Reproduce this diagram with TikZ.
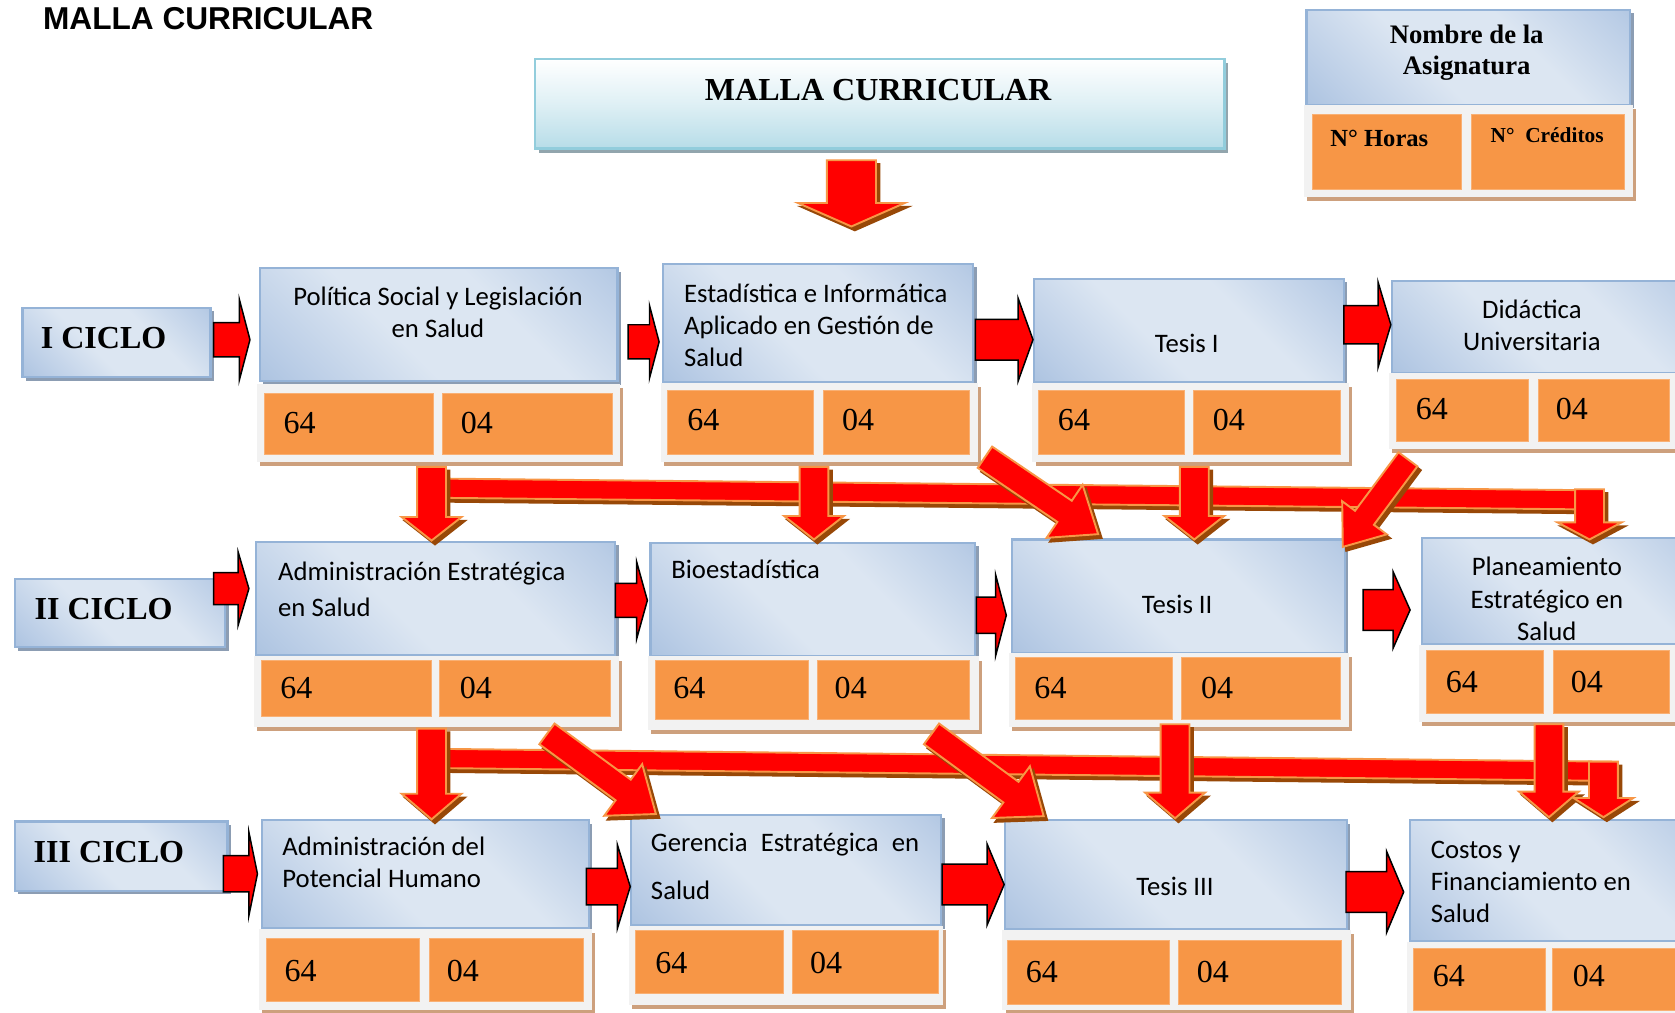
\documentclass[tikz,border=0pt]{standalone}
\usepackage{fontspec}
\usetikzlibrary{calc,shadows}
\newfontfamily\fcal{Carlito}
\newfontfamily\ftnr{Liberation Serif}
\newfontfamily\fars{Liberation Sans}
\definecolor{blight}{HTML}{DCE6F2}
\definecolor{bmid}{HTML}{BACDE6}
\definecolor{bdark}{HTML}{93B1D6}
\definecolor{bedge}{HTML}{95B3D7}
\definecolor{bshadow}{HTML}{8C9DB3}
\definecolor{orcell}{HTML}{F79646}
\definecolor{frgray}{HTML}{F2F2F2}
\definecolor{frshadow}{HTML}{CDA07D}
\definecolor{arrowedge}{HTML}{F79646}
\definecolor{arrowshadow}{HTML}{984807}
\definecolor{tbot}{HTML}{B7DDE8}
\definecolor{tedge}{HTML}{92CDDC}
\definecolor{tshadow}{HTML}{92A5AD}
\pgfdeclarehorizontalshading{bluesh}{100bp}{color(0bp)=(bdark); color(22bp)=(bmid); color(42bp)=(blight); color(62bp)=(blight); color(82bp)=(bmid); color(100bp)=(bdark)}
\tikzset{
  bluebox/.style={draw=bedge, line width=1pt, shading=bluesh, shading angle=45, inner sep=0pt,
    drop shadow={shadow xshift=1.6pt, shadow yshift=-1.6pt, fill=bshadow, opacity=1}},
  framebox/.style={fill=frgray, draw=none, inner sep=0pt,
    drop shadow={shadow xshift=1.5pt, shadow yshift=-2pt, fill=frshadow, opacity=1}},
  cellbox/.style={fill=orcell, draw=orcell!75!white, line width=0.4pt, inner sep=0pt},
  titlebox/.style={draw=tedge, line width=1.1pt, top color=white, bottom color=tbot, middle color=tbot!45!white, inner sep=0pt,
    drop shadow={shadow xshift=1.6pt, shadow yshift=-2pt, fill=tshadow, opacity=1}},
  tl/.style={font=\fcal\fontsize{12.5}{15}\selectfont, inner sep=0pt, anchor=base west},
  tc/.style={font=\fcal\fontsize{12.5}{15}\selectfont, inner sep=0pt, anchor=base},
  num/.style={font=\ftnr\fontsize{15}{18}\selectfont, inner sep=0pt, anchor=base west},
  ciclo/.style={font=\ftnr\bfseries\fontsize{15}{18}\selectfont, inner sep=0pt, anchor=base},
  sidearrow/.style={fill=red, draw=black, line width=0.7pt, line join=miter},
  arrmain/.style={fill=red, draw=arrowedge, line width=0.9pt},
  arrshadow/.style={fill=arrowshadow, draw=arrowshadow, line width=0.9pt, transform canvas={xshift=1.6pt, yshift=-1.8pt}}
}
\newcommand{\bbox}[5]{\node[bluebox, anchor=north west, minimum width={(#4-#2)*0.5pt}, minimum height={(#5-#3)*0.5pt}] (#1) at (#2,#3) {};}
\newcommand{\frbox}[5]{\node[framebox, anchor=north west, minimum width={(#4-#2)*0.5pt}, minimum height={(#5-#3)*0.5pt}] (#1) at (#2,#3) {};}
\newcommand{\celbox}[5]{\node[cellbox, anchor=north west, minimum width={(#4-#2)*0.5pt}, minimum height={(#5-#3)*0.5pt}] (#1) at (#2,#3) {};}
% block arrow: style, from, to, shaft half width, head half width, head length
\newcommand{\blockarrow}[6]{%
  \coordinate (bk-c) at ($(#3)!#6!(#2)$);
  \path[#1] ($(#2)!#4!90:(#3)$) -- ($(bk-c)!#4!90:(#3)$) -- ($(bk-c)!#5!90:(#3)$) -- (#3)
     -- ($(bk-c)!#5!-90:(#3)$) -- ($(bk-c)!#4!-90:(#3)$) -- ($(#2)!#4!-90:(#3)$) -- cycle;}
\newcommand{\tdarrow}[5]{\blockarrow{arrshadow}{#1}{#2}{#3}{#4}{#5}\blockarrow{arrmain}{#1}{#2}{#3}{#4}{#5}}
\newcommand{\barpoly}[4]{\path[#1] ($(#2)!#4!90:(#3)$) -- ($(#3)!#4!-90:(#2)$) -- ($(#3)!#4!90:(#2)$) -- ($(#2)!#4!-90:(#3)$) -- cycle;}
\newcommand{\tdbar}[3]{\barpoly{arrshadow}{#1}{#2}{#3}\barpoly{arrmain}{#1}{#2}{#3}}

\begin{document}
\begin{tikzpicture}[x=0.5pt,y=-0.5pt]
\useasboundingbox (0,0) rectangle (1568,948);
\clip (0,0) rectangle (1568,948);
\fill[white] (0,0) rectangle (1568,948);

% header
\node[font=\fars\bfseries\fontsize{14.8}{17}\selectfont, anchor=base west, inner sep=0pt] (hdr) at (40,28) {MALLA CURRICULAR};

% title box
\node[titlebox, anchor=north west, minimum width={(1145-500)*0.5pt}, minimum height={(138-54)*0.5pt}] (tt) at (500,54) {};
\node[font=\ftnr\bfseries\fontsize{15}{18}\selectfont, anchor=base, inner sep=0pt] (ttl) at (822,94) {MALLA CURRICULAR};

% legend
\bbox{lg}{1222}{8}{1525}{97}
\frbox{lgf}{1220}{98}{1528}{184}
\celbox{lgh}{1228}{107}{1368}{177}
\celbox{lgc}{1377}{107}{1520}{177}
\node[font=\ftnr\bfseries\fontsize{12.5}{15}\selectfont, anchor=base, inner sep=0pt] (lgt1) at (1373,41) {Nombre de la};
\node[font=\ftnr\bfseries\fontsize{12.5}{15}\selectfont, anchor=base, inner sep=0pt] (lgt2) at (1373,70) {Asignatura};
\node[font=\ftnr\bfseries\fontsize{11.5}{14}\selectfont, anchor=base west, inner sep=0pt] (lgt3) at (1245,137) {N° Horas};
\node[font=\ftnr\bfseries\fontsize{10}{12}\selectfont, anchor=base west, inner sep=0pt] (lgt4) at (1395,133) {N°\ \ Créditos};

% ciclo labels
\bbox{c1}{20}{287}{196}{352}
\bbox{c2}{13}{541}{210}{605}
\bbox{c3}{13}{768}{212}{833}
\node[ciclo] (c1t) at (97,326) {I CICLO};
\node[ciclo] (c2t) at (97,580) {II CICLO};
\node[ciclo] (c3t) at (102,807) {III CICLO};

% Row 1
\bbox{ps}{242}{250}{577}{356}
\frbox{psf}{240}{359}{580}{432}
\celbox{psh}{247}{368}{405}{425}
\celbox{psc}{414}{368}{573}{425}
\bbox{ei}{620}{246}{910}{357}
\frbox{eif}{618}{358}{915}{432}
\celbox{eih}{624}{365}{761}{425}
\celbox{eic}{770}{365}{907}{425}
\bbox{ta}{967}{260}{1257}{357}
\frbox{taf}{966}{358}{1262}{432}
\celbox{tah}{972}{365}{1108}{425}
\celbox{tac}{1117}{365}{1254}{425}
\bbox{di}{1302}{262}{1600}{348}
\frbox{dif}{1300}{349}{1600}{420}
\celbox{dih}{1307}{355}{1430}{413}
\celbox{dic}{1440}{355}{1562}{413}

% Row 2
\bbox{ae}{239}{506}{575}{612}
\frbox{aef}{237}{614}{579}{680}
\celbox{aeh}{244}{618}{403}{670}
\celbox{aec}{411}{618}{571}{670}
\bbox{bi}{608}{507}{912}{613}
\frbox{bif}{606}{614}{916}{683}
\celbox{bih}{613}{618}{756}{673}
\celbox{bic}{765}{618}{907}{673}
\bbox{tb}{946}{504}{1258}{610}
\frbox{tbf}{944}{611}{1262}{680}
\celbox{tbh}{950}{615}{1097}{673}
\celbox{tbc}{1106}{615}{1254}{673}
\bbox{pl}{1330}{503}{1600}{602}
\frbox{plf}{1328}{603}{1600}{675}
\celbox{plh}{1335}{608}{1444}{667}
\celbox{plc}{1454}{608}{1562}{667}

% Row 3
\bbox{ap}{244}{767}{550}{868}
\frbox{apf}{242}{869}{554}{945}
\celbox{aph}{249}{878}{392}{937}
\celbox{apc}{402}{878}{546}{937}
\bbox{ge}{590}{762}{880}{865}
\frbox{gef}{588}{866}{882}{940}
\celbox{geh}{594}{871}{733}{930}
\celbox{gec}{741}{871}{878}{930}
\bbox{tc}{940}{767}{1260}{869}
\frbox{tcf}{938}{870}{1264}{945}
\celbox{tch}{943}{880}{1094}{940}
\celbox{tcc}{1103}{880}{1255}{940}
\bbox{co}{1319}{767}{1600}{880}
\frbox{cof}{1317}{881}{1600}{960}
\celbox{coh}{1323}{887}{1446}{945}
\celbox{coc}{1453}{887}{1600}{945}

% texts
\node[tc] (pst1) at (410,286) {Política Social y Legislación};
\node[tc] (pst2) at (410,316) {en Salud};
\node[tl] (eit1) at (640,283) {Estadística e Informática};
\node[tl] (eit2) at (640,313) {Aplicado en Gestión de};
\node[tl] (eit3) at (640,343) {Salud};
\node[tc] (tat) at (1111,330) {Tesis I};
\node[tc] (dit1) at (1434,298) {Didáctica};
\node[tc] (dit2) at (1434,328) {Universitaria};
\node[tl] (aet1) at (260,543) {Administración Estratégica};
\node[tl] (aet2) at (260,577) {en Salud};
\node[tl] (bit) at (628,542) {Bioestadística};
\node[tc] (tbt) at (1102,574) {Tesis II};
\node[tc] (plt1) at (1448,539) {Planeamiento};
\node[tc] (plt2) at (1448,570) {Estratégico en};
\node[tc] (plt3) at (1448,600) {Salud};
\node[tl] (apt1) at (264,801) {Administración del};
\node[tl] (apt2) at (264,831) {Potencial Humano};
\node[tl] (get1) at (609,797) {\hbox to 125.5pt{Gerencia\hfill Estratégica\hfill en}};
\node[tl] (get2) at (609,842) {Salud};
\node[tc] (tct) at (1100,838) {Tesis III};
\node[tl] (cot1) at (1339,804) {Costos y};
\node[tl] (cot2) at (1339,834) {Financiamiento en};
\node[tl] (cot3) at (1339,864) {Salud};

% numbers
\node[num] (n1) at (265,406) {64};  \node[num] (n2) at (431,406) {04};
\node[num] (n3) at (643,403) {64};  \node[num] (n4) at (788,403) {04};
\node[num] (n5) at (990,403) {64};  \node[num] (n6) at (1135,403) {04};
\node[num] (n7) at (1325,393) {64}; \node[num] (n8) at (1456,393) {04};
\node[num] (n9) at (262,654) {64};  \node[num] (n10) at (430,654) {04};
\node[num] (n11) at (630,654) {64}; \node[num] (n12) at (781,654) {04};
\node[num] (n13) at (968,654) {64}; \node[num] (n14) at (1124,654) {04};
\node[num] (n15) at (1353,648) {64}; \node[num] (n16) at (1470,648) {04};
\node[num] (n17) at (266,919) {64}; \node[num] (n18) at (418,919) {04};
\node[num] (n19) at (613,911) {64}; \node[num] (n20) at (758,911) {04};
\node[num] (n21) at (960,920) {64}; \node[num] (n22) at (1120,920) {04};
\node[num] (n23) at (1341,923) {64}; \node[num] (n24) at (1472,923) {04};

% side arrows (black outline)
\coordinate (a1s) at (200,318);  \coordinate (a1e) at (234,318);
\coordinate (a2s) at (588,320);  \coordinate (a2e) at (617,320);
\coordinate (a3s) at (913,318);  \coordinate (a3e) at (967,318);
\coordinate (a4s) at (1258,304); \coordinate (a4e) at (1302,304);
\coordinate (a5s) at (200,551);  \coordinate (a5e) at (233,551);
\coordinate (a6s) at (576,562);  \coordinate (a6e) at (606,562);
\coordinate (a7s) at (914,576);  \coordinate (a7e) at (942,576);
\coordinate (a8s) at (1276,571); \coordinate (a8e) at (1320,571);
\coordinate (a9s) at (209,818);  \coordinate (a9e) at (241,818);
\coordinate (a10s) at (549,830); \coordinate (a10e) at (590,830);
\coordinate (a11s) at (882,828); \coordinate (a11e) at (940,828);
\coordinate (a12s) at (1260,835); \coordinate (a12e) at (1314,835);
\blockarrow{sidearrow}{a1s}{a1e}{8pt}{19pt}{5pt}
\blockarrow{sidearrow}{a2s}{a2e}{8pt}{17pt}{4.5pt}
\blockarrow{sidearrow}{a3s}{a3e}{9.5pt}{19.5pt}{7pt}
\blockarrow{sidearrow}{a4s}{a4e}{9pt}{20pt}{6pt}
\blockarrow{sidearrow}{a5s}{a5e}{7.5pt}{17pt}{5pt}
\blockarrow{sidearrow}{a6s}{a6e}{8pt}{18pt}{5pt}
\blockarrow{sidearrow}{a7s}{a7e}{8.5pt}{19pt}{5pt}
\blockarrow{sidearrow}{a8s}{a8e}{9.5pt}{18pt}{8pt}
\blockarrow{sidearrow}{a9s}{a9e}{8.5pt}{19.5pt}{4pt}
\blockarrow{sidearrow}{a10s}{a10e}{8.5pt}{19.5pt}{6pt}
\blockarrow{sidearrow}{a11s}{a11e}{9.5pt}{19pt}{8pt}
\blockarrow{sidearrow}{a12s}{a12e}{9.5pt}{19pt}{8pt}

% title down arrow
\coordinate (t0s) at (797,150); \coordinate (t0e) at (797,212);
\tdarrow{t0s}{t0e}{11.5pt}{25pt}{11pt}

% horizontal bars
\coordinate (b1s) at (410,457); \coordinate (b1e) at (1497,468);
\coordinate (b2s) at (410,710); \coordinate (b2e) at (1508,722);
\tdbar{b1s}{b1e}{4.5pt}
\tdbar{b2s}{b2e}{4.5pt}

% vertical arrows
\coordinate (v1s) at (404,437);  \coordinate (v1e) at (404,506);
\coordinate (v2s) at (762,437);  \coordinate (v2e) at (762,505);
\coordinate (v3s) at (1118,437); \coordinate (v3e) at (1118,505);
\coordinate (v4s) at (1488,458); \coordinate (v4e) at (1488,505);
\coordinate (v5s) at (404,682);  \coordinate (v5e) at (404,767);
\coordinate (v6s) at (1100,678); \coordinate (v6e) at (1100,766);
\coordinate (v7s) at (1450,678); \coordinate (v7e) at (1450,765);
\coordinate (v8s) at (1501,713); \coordinate (v8e) at (1501,765);
\tdarrow{v1s}{v1e}{6.75pt}{14pt}{11pt}
\tdarrow{v2s}{v2e}{6.75pt}{14pt}{11pt}
\tdarrow{v3s}{v3e}{6.75pt}{14pt}{11pt}
\tdarrow{v4s}{v4e}{6.75pt}{15pt}{8pt}
\tdarrow{v5s}{v5e}{6.75pt}{14pt}{12pt}
\tdarrow{v6s}{v6e}{6.75pt}{14pt}{12pt}
\tdarrow{v7s}{v7e}{6.75pt}{14pt}{12pt}
\tdarrow{v8s}{v8e}{6.75pt}{14pt}{9pt}

% diagonal arrows
\coordinate (d1s) at (922,428);  \coordinate (d1e) at (1028,500);
\coordinate (d2s) at (1318,430); \coordinate (d2e) at (1257,512);
\coordinate (d3s) at (512,687);  \coordinate (d3e) at (614,762);
\coordinate (d4s) at (872,687);  \coordinate (d4e) at (977,764);
\tdarrow{d1s}{d1e}{6pt}{15pt}{19pt}
\tdarrow{d2s}{d2e}{5.5pt}{13pt}{17pt}
\tdarrow{d3s}{d3e}{6pt}{15pt}{19pt}
\tdarrow{d4s}{d4e}{6pt}{15pt}{19pt}
\end{tikzpicture}
\end{document}
